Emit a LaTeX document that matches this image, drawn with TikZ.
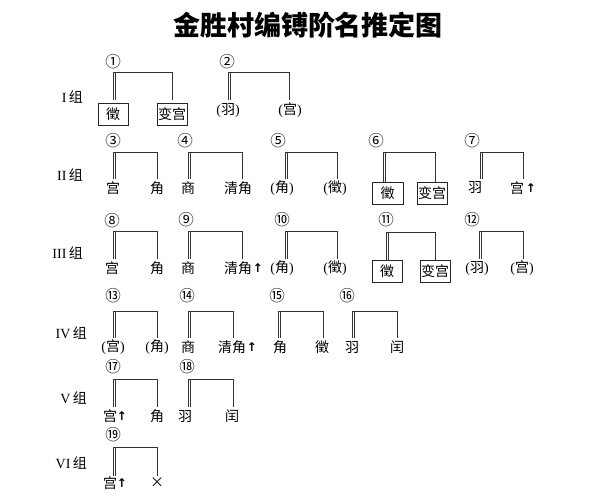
\documentclass[tikz,border=0pt]{standalone}
\usepackage{fontspec}
\setmainfont{Liberation Serif}
\newfontfamily\cjk{Noto Sans CJK SC}
\newfontfamily\dv{DejaVu Sans}
\newcommand\pl[1]{{\rmfamily(}#1{\rmfamily)}}
% bracket: name, x left, x right, y top, y bottom
\newcommand\brk[5]{%
  \coordinate (#1L) at (#2,#5);
  \coordinate (#1R) at (#3,#5);
  \coordinate (#1T) at (#2,#4);
  \coordinate (#1U) at (#3,#4);
  \draw[brl] (#1L) -- (#1T) -- (#1U) -- (#1R);
  \draw[brl] ([xshift=2.5pt]#1L) -- ([xshift=2.5pt]#1T);
}
\begin{document}
\begin{tikzpicture}[x=1pt,y=-1pt,
  lab/.style={font=\cjk\fontsize{14}{14}\selectfont, inner sep=0pt},
  numl/.style={font=\cjk\fontsize{15.5}{16}\selectfont, inner sep=0pt},
  grp/.style={font=\fontsize{14}{14}\selectfont, inner sep=0pt, anchor=east},
  boxl/.style={lab, draw=black!85, line width=0.6pt, minimum width=30pt, minimum height=22pt},
  brl/.style={draw=black!80, line width=0.6pt},
  up/.style={font=\dv\bfseries\fontsize{12}{12}\selectfont, inner sep=0pt},
]
\useasboundingbox (0,0) rectangle (606,498);

\node[font=\cjk\bfseries\fontsize{27}{28}\selectfont] (title) at (308,25) {金胜村编镈阶名推定图};

% group labels
\node[grp] (g1) at (83,97)  {I\,{\cjk 组}};
\node[grp] (g2) at (83,175) {II\,{\cjk 组}};
\node[grp] (g3) at (83,253) {III\,{\cjk 组}};
\node[grp] (g4) at (87,333) {IV\,{\cjk 组}};
\node[grp] (g5) at (87,398) {V\,{\cjk 组}};
\node[grp] (g6) at (87,463) {VI\,{\cjk 组}};

% Row I
\node[numl] (n1) at (113,62) {①};
\brk{b1}{113}{172}{72}{100}
\node[boxl] (l1a) at (113,114.5) {徵};
\node[boxl] (l1b) at (172,114.5) {变宫};
\node[numl] (n2) at (227,62) {②};
\brk{b2}{228}{289}{72}{100}
\node[lab] (l2a) at (228,110) {\pl{羽}};
\node[lab] (l2b) at (290,110) {\pl{宫}};

% Row II
\node[numl] (n3) at (113,141) {③};
\brk{b3}{113}{157}{152}{179}
\node[lab] (l3a) at (113,188) {宫};
\node[lab] (l3b) at (157,188) {角};
\node[numl] (n4) at (185,141) {④};
\brk{b4}{188}{242}{152}{179}
\node[lab] (l4a) at (188,188) {商};
\node[lab] (l4b) at (238,188) {清角};
\node[numl] (n5) at (278,141) {⑤};
\brk{b5}{285}{337}{152}{179}
\node[lab] (l5a) at (282,188) {\pl{角}};
\node[lab] (l5b) at (335,188) {\pl{徵}};
\node[numl] (n6) at (376,141) {⑥};
\brk{b6}{383}{435}{152}{182}
\node[boxl, minimum width=31pt] (l6a) at (387.5,193.5) {徵};
\node[boxl] (l6b) at (432,193.5) {变宫};
\node[numl] (n7) at (472,141) {⑦};
\brk{b7}{480}{523}{152}{179}
\node[lab] (l7a) at (475,188) {羽};
\node[lab] (l7b) at (517,188) {宫};
\node[up] (u7) at (531,188) {↑};

% Row III
\node[numl] (n8) at (112,221) {⑧};
\brk{b8}{113}{157}{231}{259}
\node[lab] (l8a) at (112,268) {宫};
\node[lab] (l8b) at (157,268) {角};
\node[numl] (n9) at (186,220) {⑨};
\brk{b9}{188}{242}{231}{259}
\node[lab] (l9a) at (188,268) {商};
\node[lab] (l9b) at (238,268) {清角};
\node[up] (u9) at (258,268) {↑};
\node[numl] (n10) at (282,220) {⑩};
\brk{b10}{285}{337}{231}{259}
\node[lab] (l10a) at (282,268) {\pl{角}};
\node[lab] (l10b) at (335,268) {\pl{徵}};
\node[numl] (n11) at (386,220) {⑪};
\brk{b11}{386}{435}{232}{260}
\node[boxl] (l11a) at (387,271) {徵};
\node[boxl] (l11b) at (435,271) {变宫};
\node[numl] (n12) at (472,220) {⑫};
\brk{b12}{479}{523}{231}{259}
\node[lab] (l12a) at (477,268) {\pl{羽}};
\node[lab] (l12b) at (522,268) {\pl{宫}};

% Row IV
\node[numl] (n13) at (113,296) {⑬};
\brk{b13}{113}{157}{311}{338}
\node[lab] (l13a) at (113,347) {\pl{宫}};
\node[lab] (l13b) at (157,347) {\pl{角}};
\node[numl] (n14) at (187,296) {⑭};
\brk{b14}{188}{233}{311}{338}
\node[lab] (l14a) at (188,347) {商};
\node[lab] (l14b) at (232,347) {清角};
\node[up] (u14) at (252,347) {↑};
\node[numl] (n15) at (277,296) {⑮};
\brk{b15}{278}{323}{311}{338}
\node[lab] (l15a) at (280,347) {角};
\node[lab] (l15b) at (322,347) {徵};
\node[numl] (n16) at (347,296) {⑯};
\brk{b16}{352}{397}{311}{338}
\node[lab] (l16a) at (352,347) {羽};
\node[lab] (l16b) at (397,347) {闰};

% Row V
\node[numl] (n17) at (113,367) {⑰};
\brk{b17}{113}{157}{379}{407}
\node[lab] (l17a) at (110,416) {宫};
\node[up] (u17) at (122,416) {↑};
\node[lab] (l17b) at (157,416) {角};
\node[numl] (n18) at (187,367) {⑱};
\brk{b18}{188}{233}{379}{407}
\node[lab] (l18a) at (185,416) {羽};
\node[lab] (l18b) at (232,416) {闰};

% Row VI
\node[numl] (n19) at (113,435) {⑲};
\brk{b19}{113}{157}{447}{476}
\node[lab] (l19a) at (110,483) {宫};
\node[up] (u19) at (122,483) {↑};
\node[lab] (l19b) at (157,483) {×};
\end{tikzpicture}
\end{document}
